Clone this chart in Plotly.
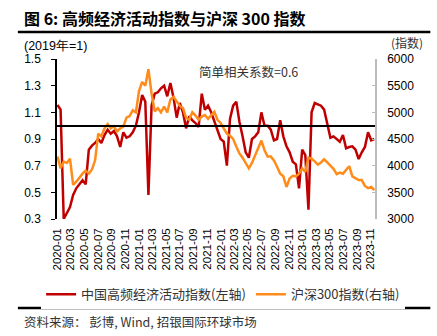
import pandas as pd
import plotly.graph_objects as go

# Biweekly observations, starting 2020-01-03
dates = pd.date_range("2020-01-03", periods=102, freq="14D")

activity = [
    1.155, 1.12, 0.30, 0.34, 0.39, 0.48, 0.53, 0.56, 0.59, 0.56,
    0.82, 0.85, 0.87, 0.90, 0.87, 0.93, 0.97, 0.94, 0.96, 0.92,
    0.84, 0.95, 0.91, 0.92, 0.95, 1.00, 1.10, 1.23, 1.18, 0.48,
    1.15, 1.24, 1.25, 1.28, 1.30, 1.22, 1.32, 1.21, 1.06, 1.17,
    1.10, 0.98, 1.07, 1.04, 1.02, 0.99, 1.24, 1.12, 1.15, 1.10,
    1.03, 0.96, 0.90, 0.88, 0.70, 1.05, 1.15, 1.18, 1.03, 0.92,
    0.80, 0.76, 0.90, 0.92, 0.95, 1.10, 1.00, 1.00, 0.97, 0.89,
    0.90, 1.04, 0.92, 0.845, 0.80, 0.73, 0.71, 0.53, 0.82, 0.78,
    0.37, 1.10, 1.17, 1.16, 1.15, 1.12, 1.01, 0.91, 0.92, 0.90,
    0.88, 0.93, 0.83, 0.84, 0.845, 0.82, 0.75, 0.80, 0.84, 0.95,
    0.89, 0.90,
]

csi300 = [
    4170, 3950, 4075, 4050, 4130, 3640, 3700, 3780, 3850, 3910,
    3850, 3930, 4100, 4600, 4550, 4700, 4780, 4700, 4740, 4640,
    4700, 4730, 4900, 4930, 5040, 5000, 5400, 5570, 5500, 5810,
    5350, 5020, 5080, 5000, 5110, 5000, 5240, 5290, 5200, 5120,
    5080, 4900, 4860, 5000, 4940, 4860, 4920, 4950, 4880, 4950,
    5010, 4860, 4800, 4700, 4600, 4560, 4500, 4360, 4230, 4150,
    4040, 3950, 4050, 4200, 4330, 4470, 4290, 4170, 4170, 4100,
    3980, 3850, 3800, 3600, 3760, 3810, 3800, 3850, 3950, 3880,
    4150, 4130, 4080, 4020, 4060, 4120, 4060, 4000, 3940, 3840,
    3870, 3850, 3920, 3990, 3800, 3760, 3730, 3730, 3620, 3580,
    3600, 3540,
]

tick_dates = pd.date_range("2020-01-01", "2023-11-01", freq="2MS")
tick_labels = [d.strftime("%Y-%m") for d in tick_dates]

RED = "#C00000"
ORANGE = "#FF8C1A"
FONT = "Liberation Sans, Arial, sans-serif"
CJK = "Noto Sans CJK SC, sans-serif"

fig = go.Figure()
fig.add_trace(go.Scatter(x=dates, y=activity, name="中国高频经济活动指数(左轴)",
                         mode="lines", line=dict(color=RED, width=2.5),
                         xaxis="x", yaxis="y"))
fig.add_trace(go.Scatter(x=dates, y=csi300, name="沪深300指数(右轴)",
                         mode="lines", line=dict(color=ORANGE, width=2.5),
                         xaxis="x", yaxis="y2"))
# empty helper trace so that the baseline axis at 1.0 is drawn
fig.add_trace(go.Scatter(x=[], y=[], xaxis="x2", yaxis="y", showlegend=False,
                         hoverinfo="skip"))

xr = ["2020-01-01", "2023-11-20"]
fig.update_layout(
    width=437, height=336,
    margin=dict(l=57, r=62, t=59, b=117),
    paper_bgcolor="white", plot_bgcolor="white",
    font=dict(family=FONT, size=12, color="black"),
    showlegend=True,
    legend=dict(orientation="h", x=-0.05, y=-0.47, xanchor="left", yanchor="middle",
                font=dict(family=CJK, size=13, color="#333"), itemwidth=30,
                tracegroupgap=0),
    xaxis=dict(range=xr, tickvals=tick_dates, ticktext=tick_labels, tickangle=-90,
               showline=False, showgrid=False, zeroline=False, ticks="",
               tickfont=dict(family=FONT, size=11.5), ticklabelstandoff=6),
    xaxis2=dict(range=xr, overlaying="x", anchor="free", position=(1.0 - 0.3) / 1.2,
                tickvals=tick_dates, showticklabels=False, showline=True,
                linecolor="black", linewidth=1.5, ticks="outside", ticklen=4,
                tickwidth=1.5, tickcolor="black", showgrid=False, zeroline=False),
    yaxis=dict(range=[0.3, 1.5], dtick=0.2, tick0=0.3, tickformat=".1f",
               showline=True, linecolor="black", linewidth=1.5, ticks="outside",
               ticklen=4, tickcolor="black", showgrid=False, zeroline=False,
               tickfont=dict(family=FONT, size=12), ticklabelstandoff=8),
    yaxis2=dict(range=[3000, 6000], dtick=500, overlaying="y", side="right",
                showline=True, linecolor="#BBBBBB", linewidth=1.5, ticks="inside",
                ticklen=3, tickcolor="#BBBBBB", showgrid=False, zeroline=False,
                tickfont=dict(family=FONT, size=12), ticklabelstandoff=8),
)

fig.add_annotation(text="<b>图 6: 高频经济活动指数与沪深 300 指数</b>", xref="paper", yref="paper",
                   x=-0.111, y=1.256, xanchor="left", yanchor="middle", showarrow=False,
                   font=dict(family=CJK, size=16, color="black"))
fig.add_annotation(text="(2019年=1)", xref="paper", yref="paper", x=-0.111, y=1.081,
                   xanchor="left", yanchor="middle", showarrow=False,
                   font=dict(family=FONT, size=12.5))
fig.add_annotation(text="(指数)", xref="paper", yref="paper", x=1.158, y=1.105,
                   xanchor="right", yanchor="middle", showarrow=False,
                   font=dict(family=CJK, size=12, color="#333"))
fig.add_annotation(text="简单相关系数=0.6", xref="paper", yref="paper", x=0.44, y=0.925,
                   xanchor="left", yanchor="middle", showarrow=False,
                   font=dict(family=CJK, size=12.5, color="#333"))
fig.add_annotation(text="资料来源： 彭博, Wind, 招银国际环球市场", xref="paper", yref="paper",
                   x=-0.111, y=-0.6375, xanchor="left", yanchor="middle", showarrow=False,
                   font=dict(family=CJK, size=12.5, color="#333"))

fig.add_shape(type="line", xref="paper", yref="paper", x0=-0.123, x1=1.174, y0=1.169, y1=1.169,
              line=dict(color="black", width=2.5))
fig.add_shape(type="line", xref="paper", yref="paper", x0=-0.123, x1=1.174, y0=-0.556, y1=-0.556,
              line=dict(color="black", width=2.5))

fig.write_html("out.html")
